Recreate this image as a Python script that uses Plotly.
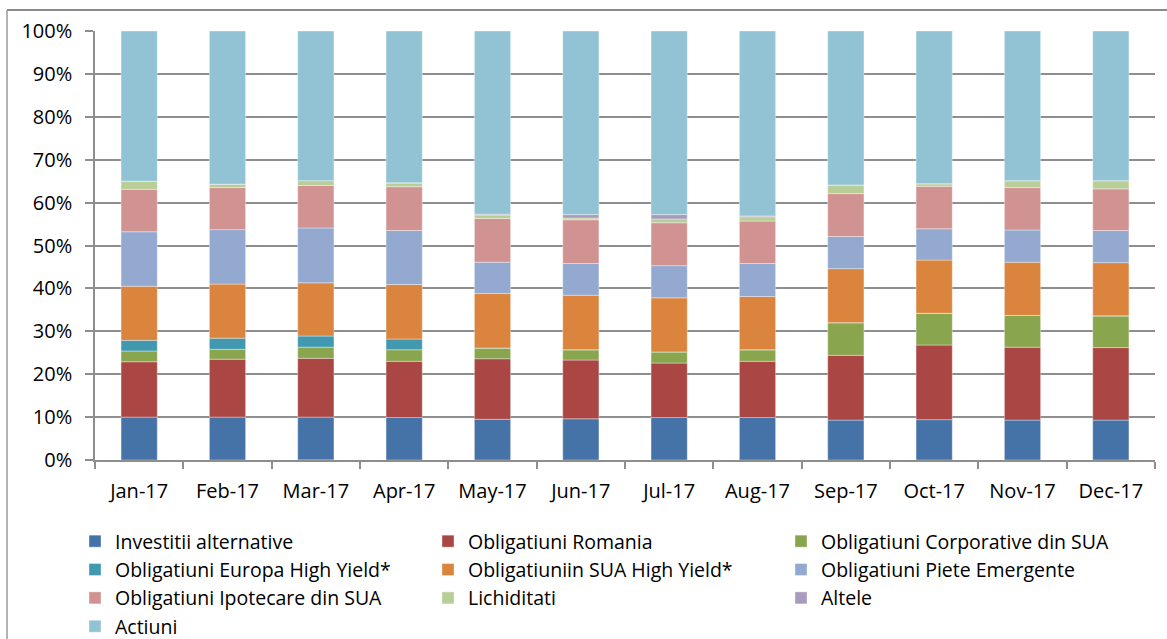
import plotly.graph_objects as go

months = ["Jan-17", "Feb-17", "Mar-17", "Apr-17", "May-17", "Jun-17",
          "Jul-17", "Aug-17", "Sep-17", "Oct-17", "Nov-17", "Dec-17"]

investitii_alternative = [10.0, 10.0, 10.0, 9.9, 9.5, 9.6, 9.9, 9.9, 9.3, 9.4, 9.3, 9.3]
obligatiuni_romania = [12.9, 13.5, 13.7, 13.1, 14.1, 13.7, 12.7, 13.1, 15.1, 17.4, 17.0, 16.9]
obligatiuni_corporative_sua = [2.5, 2.3, 2.6, 2.7, 2.5, 2.4, 2.6, 2.7, 7.6, 7.4, 7.4, 7.4]
obligatiuni_europa_hy = [2.5, 2.6, 2.6, 2.5, 0, 0, 0, 0, 0, 0, 0, 0]
obligatiuni_sua_hy = [12.6, 12.6, 12.4, 12.7, 12.7, 12.7, 12.6, 12.4, 12.6, 12.4, 12.4, 12.4]
obligatiuni_piete_emergente = [12.7, 12.7, 12.8, 12.6, 7.3, 7.4, 7.5, 7.7, 7.5, 7.3, 7.5, 7.5]
obligatiuni_ipotecare_sua = [9.9, 9.8, 9.9, 10.2, 10.2, 10.2, 10.0, 9.9, 10.0, 9.9, 9.9, 9.7]
lichiditati = [1.9, 0.8, 1.1, 0.9, 0.8, 0.4, 0.9, 1.0, 2.0, 0.6, 1.6, 1.9]
altele = [0, 0, -0.5, 0, 0.2, 0.8, 1.0, 0.2, 0, 0, 0, 0]
actiuni = [35.0, 35.7, 34.9, 35.4, 42.7, 42.8, 42.8, 43.1, 35.9, 35.6, 34.9, 34.9]

series = [
    ("Investitii alternative", investitii_alternative, "#4572A7"),
    ("Obligatiuni Romania", obligatiuni_romania, "#AA4643"),
    ("Obligatiuni Corporative din SUA", obligatiuni_corporative_sua, "#89A54E"),
    ("Obligatiuni Europa High Yield*", obligatiuni_europa_hy, "#4198AF"),
    ("Obligatiuniin SUA High Yield*", obligatiuni_sua_hy, "#DB843D"),
    ("Obligatiuni Piete Emergente", obligatiuni_piete_emergente, "#93A9CF"),
    ("Obligatiuni Ipotecare din SUA", obligatiuni_ipotecare_sua, "#D19392"),
    ("Lichiditati", lichiditati, "#B9CD96"),
    ("Altele", altele, "#A99BBD"),
    ("Actiuni", actiuni, "#92C3D4"),
]

fig = go.Figure()
for name, vals, col in series:
    fig.add_trace(go.Bar(
        x=months, y=vals, name=name,
        marker=dict(color=col, line=dict(color="rgba(255,255,255,0.45)", width=0.8)),
    ))

FONT = "Open Sans"
grid = "#8e8e8e"
W, H = 1167, 639
L, R, T, B = 95, 12, 31, 179
PW, PH = W - L - R, H - T - B

fig.update_layout(
    width=W, height=H,
    barmode="relative",
    bargap=0.59,
    plot_bgcolor="white", paper_bgcolor="white",
    margin=dict(l=L, r=R, t=T, b=B, autoexpand=False),
    font=dict(family=FONT, size=20, color="black"),
    showlegend=True,
    legend=dict(
        orientation="h", traceorder="normal",
        x=-20 / PW, y=-62 / PH, xanchor="left", yanchor="top",
        entrywidth=308, entrywidthmode="pixels",
        font=dict(family=FONT, size=19.5),
        itemclick=False,
    ),
    xaxis=dict(
        showgrid=False, showline=True, linecolor=grid, linewidth=1.5,
        ticks="outside", tickson="boundaries", ticklen=7, tickcolor=grid, tickwidth=1.5,
        ticklabelstandoff=12,
        tickfont=dict(family=FONT, size=20),
    ),
    yaxis=dict(
        range=[0, 100], dtick=10, ticksuffix="%",
        showgrid=True, gridcolor=grid, gridwidth=1.5,
        showline=True, linecolor=grid, linewidth=1.5,
        ticks="outside", ticklen=8, tickcolor=grid, tickwidth=1.5,
        ticklabelstandoff=9,
        tickfont=dict(family=FONT, size=20),
        zeroline=False,
    ),
)

# chart border (top and left edges visible in reference; right/bottom off-canvas)
bx = (7 - L) / PW
by = 1 + (T - 10) / PH
fig.add_shape(type="line", xref="paper", yref="paper",
              x0=bx, x1=1 + 40 / PW, y0=by, y1=by,
              line=dict(color="#8a8a8a", width=2), layer="above")
fig.add_shape(type="line", xref="paper", yref="paper",
              x0=bx, x1=bx, y0=-(B + 40) / PH, y1=by,
              line=dict(color="#9a9a9a", width=1.5), layer="above")

fig.write_html("out.html", config={"displayModeBar": False},
               post_script="document.body.style.margin='0';document.body.style.overflow='hidden';")
